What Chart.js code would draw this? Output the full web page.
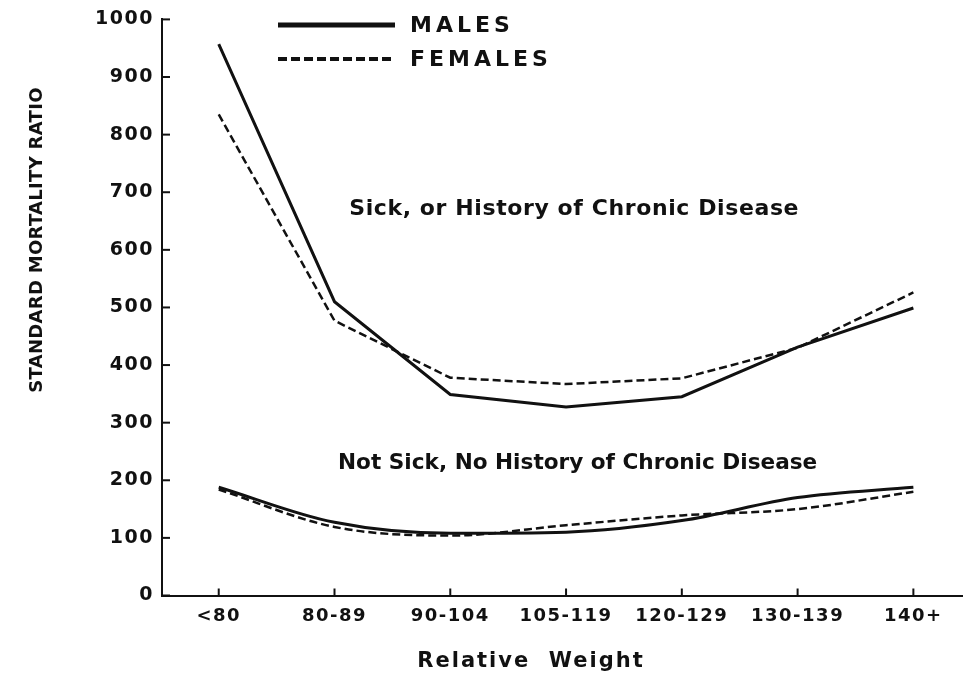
<!DOCTYPE html>
<html>
<head>
<meta charset="utf-8">
<script src="https://cdn.jsdelivr.net/npm/chart.js@4"></script>
<style>
  html, body { margin: 0; padding: 0; background: #fff; }
</style>
</head>
<body>
<canvas id="chart" width="963" height="683"></canvas>
<script>
// relative weight groups along the bottom
const categories = ["<80", "80-89", "90-104", "105-119", "120-129", "130-139", "140+"];

// standard mortality ratio
const sickMales = [957, 510, 349, 327, 345, 431, 499];
const sickFemales = [835, 477, 378, 367, 377, 430, 526];
const notSickMales = [188, 127, 108, 110, 130, 170, 188];
const notSickFemales = [184, 119, 104, 122, 139, 150, 180];

const yTicks = [0, 100, 200, 300, 400, 500, 600, 700, 800, 900, 1000];

const ink = "#111";
const face = "'DejaVu Sans', sans-serif";

const toPoints = values => values.map((v, i) => ({ x: i, y: v }));

// the old figure uses a wide lettering, so space out the tick labels a bit
const wideTicks = {
    id: "wideTicks",
    beforeDraw(chart) { chart.ctx.letterSpacing = "1.5px"; },
    beforeDatasetsDraw(chart) { chart.ctx.letterSpacing = "0px"; }
};

// inward tick marks, axis titles, legend and the two captions
const decorations = {
    id: "decorations",
    afterDraw(chart) {
        const { ctx, chartArea, scales: { x, y } } = chart;
        ctx.save();
        ctx.strokeStyle = ink;
        ctx.fillStyle = ink;
        ctx.lineWidth = 2;

        x.ticks.forEach((t, i) => {
            const px = x.getPixelForTick(i);
            ctx.beginPath();
            ctx.moveTo(px, chartArea.bottom);
            ctx.lineTo(px, chartArea.bottom - 7);
            ctx.stroke();
        });
        y.ticks.forEach((t, i) => {
            const py = y.getPixelForTick(i);
            ctx.beginPath();
            ctx.moveTo(chartArea.left, py);
            ctx.lineTo(chartArea.left + 8, py);
            ctx.stroke();
        });

        // y title
        ctx.save();
        ctx.translate(37, 240);
        ctx.rotate(-Math.PI / 2);
        ctx.font = "bold 18px " + face;
        ctx.letterSpacing = "0.3px";
        ctx.textAlign = "center";
        ctx.textBaseline = "middle";
        ctx.fillText("STANDARD MORTALITY RATIO", 0, 0);
        ctx.restore();

        // x title
        ctx.font = "bold 21px " + face;
        ctx.letterSpacing = "2px";
        ctx.textAlign = "center";
        ctx.textBaseline = "middle";
        ctx.fillText("Relative  Weight", 531, 662);

        // captions
        ctx.font = "bold 22px " + face;
        ctx.letterSpacing = "0.6px";
        ctx.fillText("Sick, or History of Chronic Disease", x.getPixelForValue(3.07), y.getPixelForValue(670));
        ctx.font = "bold 21.6px " + face;
        ctx.letterSpacing = "0px";
        ctx.fillText("Not Sick, No History of Chronic Disease", x.getPixelForValue(3.1), y.getPixelForValue(229));

        // legend
        ctx.lineWidth = 5;
        ctx.beginPath();
        ctx.moveTo(278, 25);
        ctx.lineTo(395, 25);
        ctx.stroke();
        ctx.lineWidth = 4;
        ctx.setLineDash([9, 4]);
        ctx.beginPath();
        ctx.moveTo(278, 59);
        ctx.lineTo(395, 59);
        ctx.stroke();
        ctx.setLineDash([]);
        ctx.font = "bold 22px " + face;
        ctx.letterSpacing = "4px";
        ctx.textAlign = "left";
        ctx.fillText("MALES", 410, 26);
        ctx.fillText("FEMALES", 410, 60);
        ctx.restore();
    }
};

const solid = { borderColor: ink, borderWidth: 3, pointRadius: 0, fill: false };
const dashed = { borderColor: ink, borderWidth: 2.5, borderDash: [8, 4], pointRadius: 0, fill: false };

const chart = new Chart(document.getElementById("chart").getContext("2d"), {
    type: "line",
    data: {
        datasets: [
            { ...solid, label: "Males, sick", data: toPoints(sickMales), tension: 0 },
            { ...dashed, label: "Females, sick", data: toPoints(sickFemales), tension: 0 },
            { ...solid, label: "Males, not sick", data: toPoints(notSickMales), cubicInterpolationMode: "monotone" },
            { ...dashed, label: "Females, not sick", data: toPoints(notSickFemales), cubicInterpolationMode: "monotone" }
        ]
    },
    options: {
        responsive: false,
        animation: false,
        layout: { padding: { top: 17.5, right: 1, left: 0, bottom: 0 } },
        plugins: { legend: { display: false }, tooltip: { enabled: false } },
        scales: {
            x: {
                type: "linear",
                min: -0.49,
                max: 6.42,
                grid: { display: false, drawTicks: false },
                border: { display: true, color: ink, width: 2 },
                ticks: {
                    stepSize: 1,
                    includeBounds: false,
                    autoSkip: false,
                    maxRotation: 0,
                    padding: 10,
                    color: ink,
                    font: { family: face, size: 18, weight: "bold" },
                    callback: v => categories[v]
                },
                afterFit: scale => { scale.height = 87.5; }
            },
            y: {
                min: 0,
                max: 1000,
                grid: { display: false, drawTicks: false },
                border: { display: true, color: ink, width: 2 },
                afterBuildTicks: scale => { scale.ticks = yTicks.map(v => ({ value: v })); },
                ticks: {
                    padding: 8,
                    color: ink,
                    font: { family: face, size: 19, weight: "bold" },
                    callback: v => String(v)
                },
                afterFit: scale => { scale.width = 162; }
            }
        }
    },
    plugins: [wideTicks, decorations]
});
</script>
</body>
</html>
